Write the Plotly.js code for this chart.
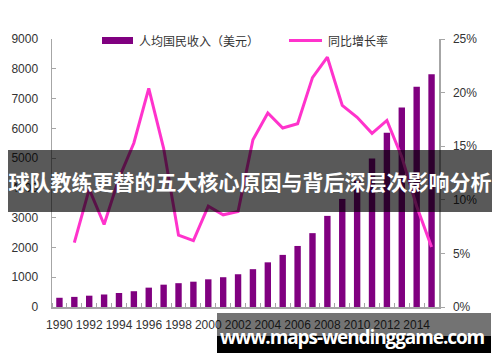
<!DOCTYPE html>
<html>
<head>
<meta charset="utf-8">
<script src="https://cdn.plot.ly/plotly-3.0.1.min.js"></script>
<style>
  html, body { margin: 0; padding: 0; background: #fff; }
  #wrap { position: relative; width: 500px; height: 362px; overflow: hidden; }
  #chart { position: absolute; left: 0; top: 0; width: 500px; height: 362px; }
  #banner { position: absolute; left: 8px; top: 150px; width: 484px; height: 62px;
    background: rgba(0,0,0,0.65); color: #fff; font-family: "Noto Sans CJK SC", sans-serif;
    font-weight: bold; font-size: 21px; line-height: 62px; text-align: center; white-space: nowrap; }
  #wm-gray { position: absolute; left: 217px; top: 313px; width: 274px; height: 23px; background: rgba(0,0,0,0.55); }
  #wm-black { position: absolute; left: 217px; top: 336px; width: 274px; height: 17px; background: #000; }
  #wm-text { position: absolute; left: 217px; top: 323px; width: 270px; height: 28px; line-height: 28px;
    color: #fff; font-family: "Open Sans", sans-serif; font-weight: bold; font-size: 19px; letter-spacing: -1.1px;
    text-align: center; white-space: nowrap; }
</style>
</head>
<body>
<div id="wrap">
  <div id="chart"></div>
  <div id="banner">球队教练更替的五大核心原因与背后深层次影响分析</div>
  <div id="wm-gray"></div>
  <div id="wm-black"></div>
  <div id="wm-text">www.maps-wendinggame.com</div>
</div>
<script>
const years = [1990,1991,1992,1993,1994,1995,1996,1997,1998,1999,2000,2001,2002,2003,2004,2005,2006,2007,2008,2009,2010,2011,2012,2013,2014,2015];
const income = [310,340,380,420,470,530,650,750,800,850,930,1000,1100,1270,1500,1750,2050,2480,3060,3630,4250,4990,5850,6700,7400,7820];
const growth = [null,6.0,11.0,7.7,12.0,15.3,20.4,14.8,6.7,6.2,9.4,8.6,8.9,15.6,18.1,16.7,17.1,21.4,23.3,18.8,17.7,16.2,17.4,14.0,9.4,5.6];
const xTickVals = [1990,1992,1994,1996,1998,2000,2002,2004,2006,2008,2010,2012,2014];
const xTickText = ["1990","1992","1994","1996","1998","2000","2002","2004","2006","2008","2010","2012","2014"];
const incomeName = "人均国民收入（美元）";
const growthName = "同比增长率";

const barColor = "#800080";
const lineColor = "#FF33CC";
const axisColor = "#a6a6a6";
const textColor = "#333333";
const tickFont = {family: "Liberation Sans, Arial, sans-serif", size: 12, color: textColor};

const traces = [
  {type: "bar", x: years, y: income, name: incomeName, marker: {color: barColor}, width: 0.43, showlegend: false, hoverinfo: "skip"},
  {type: "scatter", mode: "lines", x: years, y: growth, name: growthName, yaxis: "y2",
   line: {color: lineColor, width: 3}, connectgaps: false, showlegend: false, hoverinfo: "skip"}
];

const layout = {
  width: 500, height: 362,
  margin: {l: 52, r: 61, t: 39, b: 55},
  paper_bgcolor: "#ffffff", plot_bgcolor: "#ffffff",
  showlegend: false,
  xaxis: {
    range: [1989.5, 2015.5], tickmode: "array", tickvals: xTickVals, ticktext: xTickText,
    ticks: "", showgrid: false, zeroline: false, showline: true, linecolor: axisColor, linewidth: 1.5,
    tickfont: tickFont, ticklabelstandoff: 6,
    minor: {tick0: 1989.5, dtick: 1, ticks: "inside", ticklen: 4, tickcolor: axisColor, tickwidth: 1, showgrid: false}
  },
  yaxis: {
    range: [0, 9000], dtick: 1000, tick0: 0, showgrid: false, zeroline: false,
    showline: true, linecolor: axisColor, linewidth: 1.5, ticks: "inside", ticklen: 4, tickcolor: axisColor,
    tickfont: tickFont, ticklabelstandoff: 10
  },
  yaxis2: {
    overlaying: "y", side: "right", range: [0, 25], dtick: 5, tick0: 0, ticksuffix: "%",
    showgrid: false, zeroline: false, showline: true, linecolor: axisColor, linewidth: 1.5,
    ticks: "outside", ticklen: 4, tickcolor: axisColor, tickfont: tickFont, ticklabelstandoff: 6
  },
  shapes: [
    {type: "rect", xref: "paper", yref: "paper", x0: 0.1292, x1: 0.2093, y0: 0.9813, y1: 1.0075,
     fillcolor: barColor, line: {width: 0}},
    {type: "line", xref: "paper", yref: "paper", x0: 0.6124, x1: 0.6977, y0: 0.9944, y1: 0.9944,
     line: {color: lineColor, width: 3}}
  ],
  annotations: [
    {xref: "paper", yref: "paper", x: 0.2196, y: 0.9944, xanchor: "left", yanchor: "middle", showarrow: false,
     text: incomeName, font: {family: "Noto Sans CJK SC, sans-serif", size: 12, color: textColor}},
    {xref: "paper", yref: "paper", x: 0.708, y: 0.9944, xanchor: "left", yanchor: "middle", showarrow: false,
     text: growthName, font: {family: "Noto Sans CJK SC, sans-serif", size: 12, color: textColor}}
  ]
};

Plotly.newPlot("chart", traces, layout, {staticPlot: true, displayModeBar: false});
</script>
</body>
</html>
